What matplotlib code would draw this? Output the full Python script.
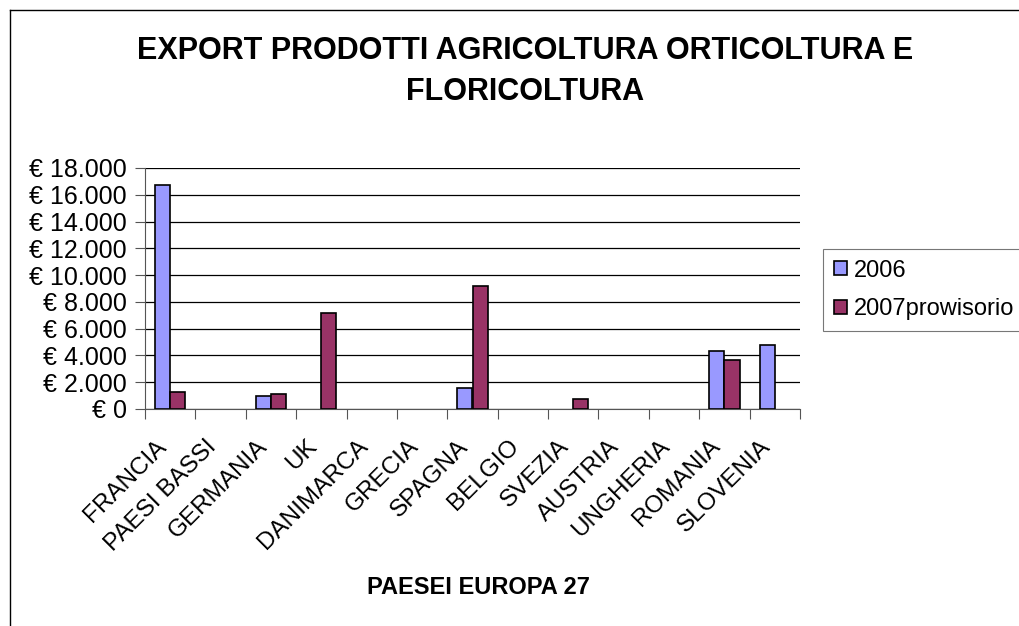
import numpy as np
import matplotlib.pyplot as plt
from matplotlib.ticker import FuncFormatter, FixedLocator

# data (None = no bar)
paesi = ['FRANCIA', 'PAESI BASSI', 'GERMANIA', 'UK', 'DANIMARCA', 'GRECIA', 'SPAGNA',
         'BELGIO', 'SVEZIA', 'AUSTRIA', 'UNGHERIA', 'ROMANIA', 'SLOVENIA']
val_2006 = [16700, None, 1000, None, None, None, 1570, None, None, None, None, 4360, 4790]
val_2007 = [1250, None, 1120, 7180, None, None, 9150, None, 720, None, None, 3660, None]
y_ticks = [0, 2000, 4000, 6000, 8000, 10000, 12000, 14000, 16000, 18000]

plt.rcParams['font.family'] = ['Liberation Sans', 'DejaVu Sans']

W, H = 1020, 626
fig = plt.figure(figsize=(W / 100, H / 100), dpi=100)

# chart area frame (left and top edges visible)
fig.add_artist(plt.Line2D([10 / W, 10 / W], [0, 1 - 10 / H], color='black', lw=1))
fig.add_artist(plt.Line2D([10 / W, 1], [1 - 10 / H, 1 - 10 / H], color='black', lw=1))

ax = fig.add_axes([145 / W, (H - 409) / H, 655 / W, 241 / H])

x = np.arange(len(paesi))
w = 0.3
v06 = np.array([np.nan if v is None else v for v in val_2006], dtype=float)
v07 = np.array([np.nan if v is None else v for v in val_2007], dtype=float)
b1 = ax.bar(x - w / 2, v06, w, color='#9999FF', edgecolor='black', linewidth=1.2,
            label='2006', zorder=3)
b2 = ax.bar(x + w / 2, v07, w, color='#993366', edgecolor='black', linewidth=1.2,
            label='2007prowisorio', zorder=3)

ax.set_xlim(-0.5, len(paesi) - 0.5)
ax.set_ylim(0, 18000)
ax.set_yticks(y_ticks)
ax.yaxis.set_major_formatter(FuncFormatter(lambda v, p: '€ ' + f'{int(v):,}'.replace(',', '.')))
ax.yaxis.grid(True, color='black', lw=0.9, zorder=0)
ax.tick_params(axis='y', labelsize=18, length=7, width=0.8, color='#555555', pad=6)

# labels sit a little left of the category centre, like the original
ax.set_xticks(x - 0.3)
ax.set_xticklabels(paesi, rotation=45, ha='right', rotation_mode='anchor', fontsize=17.5)
ax.xaxis.set_minor_locator(FixedLocator(np.arange(len(paesi) + 1) - 0.5))
ax.tick_params(axis='x', which='major', length=0, pad=19)
ax.tick_params(axis='x', which='minor', length=7, width=0.8, color='#555555')

for s in ['top', 'right']:
    ax.spines[s].set_visible(False)
ax.spines['left'].set_color('#555555')
ax.spines['bottom'].set_color('#555555')

ax.set_xlabel('PAESEI EUROPA 27', fontsize=17, fontweight='bold')
ax.xaxis.set_label_coords((478 - 145) / 655, -(587 - 409) / 241)
ax.xaxis.label.set_va('center')

fig.text(525 / W, 1 - 51 / H, 'EXPORT PRODOTTI AGRICOLTURA ORTICOLTURA E',
         ha='center', va='center', fontsize=22, fontweight='bold')
fig.text(525 / W, 1 - 92 / H, 'FLORICOLTURA',
         ha='center', va='center', fontsize=22, fontweight='bold')

leg = fig.legend(handles=[b1, b2], loc='upper left', bbox_to_anchor=(823 / W, 1 - 249 / H),
                 fontsize=17, frameon=True, fancybox=False, edgecolor='#555555',
                 handlelength=0.55, handleheight=0.55, handletextpad=0.3,
                 borderpad=0.45, labelspacing=0.7, borderaxespad=0)
leg.get_frame().set_linewidth(0.8)

plt.savefig('out.png', dpi=100)
